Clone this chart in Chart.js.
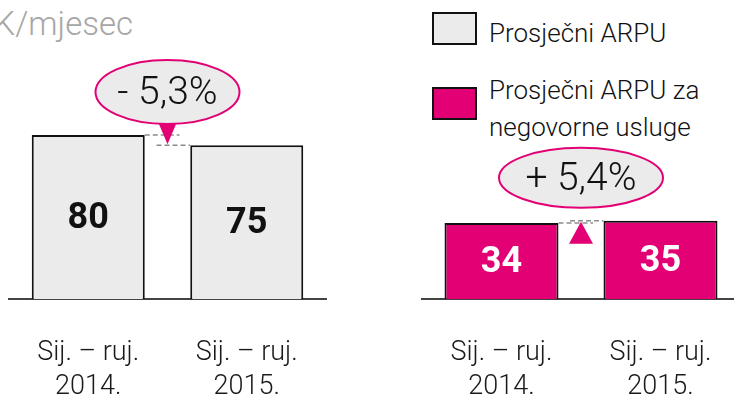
<!DOCTYPE html>
<html>
<head>
<meta charset="utf-8">
<script src="https://cdn.jsdelivr.net/npm/chart.js@4/dist/chart.umd.min.js"></script>
<style>
  body { margin: 0; width: 734px; height: 400px; overflow: hidden; background: #fff;
         font-family: Roboto, "Liberation Sans", sans-serif; font-weight: 300; position: relative; }
  canvas { position: absolute; top: 0; }
  #leftChart { left: 0; }
  #rightChart { left: 367px; }
  .unit { position: absolute; right: 601px; top: 7px; font-size: 33px; line-height: 33px;
          color: #a6a6a6; white-space: nowrap; }
  .key { position: absolute; left: 432px; width: 41px; height: 29px; border: 2px solid #111; }
  .keytext { position: absolute; left: 489px; font-size: 26px; line-height: 37px; color: #111;
             white-space: pre; }
</style>
</head>
<body>
<div class="unit" id="unit"></div>
<div class="key" id="key0" style="top:12px"></div>
<div class="keytext" id="keytext0" style="top:15px"></div>
<div class="key" id="key1" style="top:87px"></div>
<div class="keytext" id="keytext1" style="top:72px"></div>
<canvas id="leftChart" width="367" height="400"></canvas>
<canvas id="rightChart" width="373" height="400"></canvas>
<script>
const unitLabel = "HRK/mjesec";
const categories = [["Sij. – ruj.", "2014."], ["Sij. – ruj.", "2015."]];
const seriesNames = ["Prosječni ARPU", "Prosječni ARPU za negovorne usluge"];
const arpuValues = [80, 75];
const voiceArpuValues = [34, 35];
const changeLabels = ["- 5,3%", "+ 5,4%"];

const GREY = '#ebebeb';
const MAGENTA = '#e20074';
const FONT = 'Roboto, "Liberation Sans", sans-serif';

document.getElementById('unit').textContent = unitLabel;
document.getElementById('keytext0').textContent = seriesNames[0];
// legend text breaks after "za" like the original
document.getElementById('keytext1').textContent = seriesNames[1].replace(' za ', ' za\n');
document.getElementById('key0').style.background = GREY;
document.getElementById('key1').style.background = MAGENTA;

// value written in the middle of each bar
const barValues = {
  id: 'barValues',
  afterDatasetsDraw(chart, args, opts) {
    const ctx = chart.ctx;
    const ds = chart.data.datasets[0];
    ctx.save();
    ctx.font = 'bold 36px ' + FONT;
    ctx.fillStyle = opts.color;
    ctx.textAlign = 'center';
    ctx.textBaseline = 'middle';
    chart.getDatasetMeta(0).data.forEach((bar, i) => {
      ctx.fillText(ds.data[i], bar.x, (bar.y + bar.base) / 2 + 2);
    });
    ctx.restore();
  }
};

// change bubble with arrow and dashed guides between the bars
const changeBubble = {
  id: 'changeBubble',
  afterDatasetsDraw(chart, args, opts) {
    const ctx = chart.ctx;
    const bars = chart.getDatasetMeta(0).data;
    const a = bars[0], b = bars[1];
    const aRight = a.x + a.width / 2;
    const bLeft = b.x - b.width / 2;
    const mid = (aRight + bLeft) / 2;
    const cy = Math.min(a.y, b.y) - 43;
    ctx.save();
    ctx.strokeStyle = '#8c8c8c';
    ctx.lineWidth = 1.5;
    ctx.setLineDash([5, 3]);
    ctx.beginPath();
    ctx.moveTo(aRight, a.y); ctx.lineTo(mid + 12, a.y);
    ctx.moveTo(mid - 11, b.y); ctx.lineTo(bLeft, b.y);
    ctx.stroke();
    ctx.setLineDash([]);

    ctx.fillStyle = GREY;
    ctx.strokeStyle = MAGENTA;
    ctx.lineWidth = 2;
    ctx.beginPath();
    ctx.ellipse(mid, cy, opts.rx, opts.ry, 0, 0, Math.PI * 2);
    ctx.fill();
    ctx.stroke();

    ctx.fillStyle = MAGENTA;
    ctx.beginPath();
    if (opts.down) {
      const baseY = cy + opts.ry - 1;
      ctx.moveTo(mid - 9, baseY); ctx.lineTo(mid + 9, baseY); ctx.lineTo(mid, b.y - 1);
    } else {
      ctx.moveTo(mid, b.y + 1); ctx.lineTo(mid + 12, b.y + 23); ctx.lineTo(mid - 12, b.y + 23);
    }
    ctx.closePath();
    ctx.fill();

    ctx.fillStyle = '#111';
    ctx.font = '300 39px ' + FONT;
    ctx.textAlign = 'center';
    ctx.textBaseline = 'middle';
    ctx.fillText(opts.text, mid, cy + 2);
    ctx.restore();
  }
};

function makeChart(id, values, fill, yMax, padding, valueColor, bubble, barPct) {
  return new Chart(document.getElementById(id), {
    type: 'bar',
    data: {
      labels: categories,
      datasets: [{
        data: values,
        backgroundColor: fill,
        borderColor: '#111',
        borderWidth: 2,
        borderSkipped: 'start',
        barPercentage: barPct,
        categoryPercentage: 1
      }]
    },
    options: {
      responsive: false,
      animation: false,
      layout: { padding: padding },
      plugins: {
        legend: { display: false },
        tooltip: { enabled: false },
        barValues: { color: valueColor },
        changeBubble: bubble
      },
      scales: {
        x: {
          // grid hidden, tick length only used to push labels down
          grid: { display: false, drawTicks: true, tickLength: 37 },
          border: { display: true, color: '#444', width: 2 },
          ticks: {
            padding: 0,
            color: '#1a1a1a',
            maxRotation: 0,
            autoSkip: false,
            font: { family: FONT, size: 27, weight: '300', lineHeight: 34 / 27 }
          },
          afterFit(scale) { scale.height = 101; }
        },
        y: { display: false, min: 0, max: yMax }
      }
    },
    plugins: [barValues, changeBubble]
  });
}

makeChart('leftChart', arpuValues, GREY, 100,
  { left: 9, right: 41, top: 94, bottom: 0 }, '#111',
  { text: changeLabels[0], down: true, rx: 72, ry: 32 }, 0.713);

makeChart('rightChart', voiceArpuValues, MAGENTA, 60,
  { left: 55, right: 0, top: 165, bottom: 0 }, '#fff',
  { text: changeLabels[1], down: false, rx: 82, ry: 30 }, 0.717);
</script>
</body>
</html>
